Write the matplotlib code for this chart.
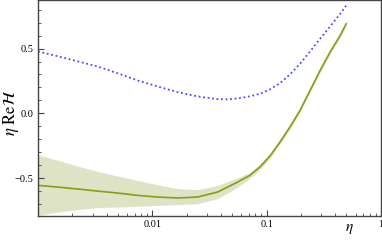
import matplotlib
matplotlib.use('Agg')
import matplotlib.pyplot as plt
from matplotlib.ticker import MultipleLocator, LogLocator, NullFormatter
import numpy as np

plt.rcParams['font.family'] = ['Liberation Serif', 'DejaVu Serif']
plt.rcParams['mathtext.fontset'] = 'stix'

# blue dotted curve
eta_b = [0.001, 0.00148, 0.00221, 0.00331, 0.00496, 0.00743, 0.0111, 0.0167,
         0.0249, 0.0374, 0.0458, 0.0583, 0.0714, 0.0873, 0.107, 0.131, 0.160,
         0.196, 0.240, 0.294, 0.359, 0.44, 0.497]
val_b = [0.477, 0.441, 0.402, 0.362, 0.31, 0.254, 0.208, 0.164,
         0.131, 0.11, 0.108, 0.118, 0.132, 0.151, 0.185, 0.233, 0.30,
         0.382, 0.477, 0.575, 0.669, 0.767, 0.83]

# green curve with error band
eta_g = [0.001, 0.00148, 0.00221, 0.00331, 0.00496, 0.00743, 0.0111, 0.0167,
         0.0249, 0.0374, 0.056, 0.0714, 0.0873, 0.107, 0.131, 0.160, 0.196,
         0.240, 0.294, 0.359, 0.44, 0.497]
val_g = [-0.554, -0.567, -0.582, -0.598, -0.613, -0.631, -0.644, -0.651,
         -0.644, -0.605, -0.528, -0.477, -0.413, -0.328, -0.22, -0.105, 0.023,
         0.177, 0.331, 0.472, 0.60, 0.69]
up_g = [-0.318, -0.36, -0.405, -0.446, -0.482, -0.515, -0.549, -0.579,
        -0.587, -0.554, -0.495, -0.455, -0.393, -0.31, -0.205, -0.09, 0.038,
        0.192, 0.346, 0.487, 0.615, 0.707]
lo_g = [-0.785, -0.759, -0.741, -0.725, -0.721, -0.715, -0.708, -0.702,
        -0.695, -0.656, -0.567, -0.50, -0.433, -0.346, -0.235, -0.12, 0.008,
        0.162, 0.316, 0.457, 0.585, 0.673]

fig = plt.figure(figsize=(3.82, 2.4), dpi=100)
ax = fig.add_axes([0.0995, 0.1, 0.8975, 0.898])

ax.fill_between(eta_g, lo_g, up_g, color='#dfe3c5', lw=0)
ax.plot(eta_g, val_g, color='#8c9a14', lw=1.2)
ax.plot(eta_b, val_b, color='#4b4bff', lw=1.3, ls=(0, (1, 1.5)))

ax.set_xscale('log')
ax.set_xlim(0.001, 1)
ax.set_ylim(-0.79, 0.87)

ax.set_xticks([0.01, 0.1, 1])
ax.set_xticklabels(['0.01', '0.1', '1'])
ax.xaxis.set_minor_locator(LogLocator(base=10, subs=np.arange(2, 10)))
ax.xaxis.set_minor_formatter(NullFormatter())
ax.set_yticks([-0.5, 0.0, 0.5])
ax.set_yticklabels(['\u22120.5', '0.0', '0.5'])
ax.yaxis.set_minor_locator(MultipleLocator(0.1))

ax.tick_params(which='both', direction='in', labelsize=7.5, color='#444444')
ax.tick_params(which='major', length=4, width=0.8, pad=3)
ax.tick_params(which='minor', length=2, width=0.6)
for s in ax.spines.values():
    s.set_color('#444444')
    s.set_linewidth(1.0)

fig.text(0.028, 0.53, r'$\eta\ \mathrm{Re}\mathcal{H}$', rotation=90,
         ha='center', va='center', fontsize=12)
fig.text(0.915, 0.045, r'$\eta$', ha='center', va='center', fontsize=11)

fig.savefig('out.png', dpi=100)
